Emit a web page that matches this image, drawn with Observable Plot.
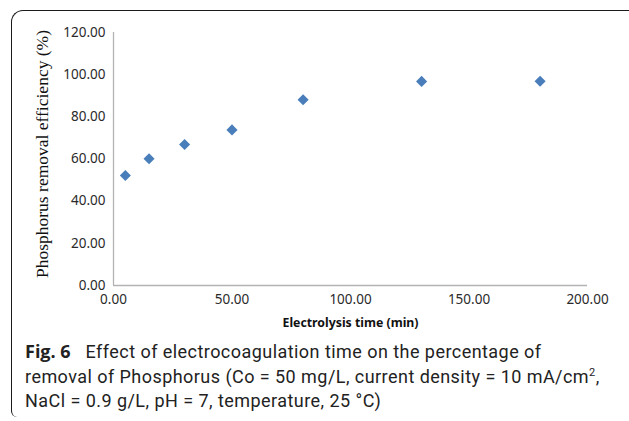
<!DOCTYPE html>
<html>
<head>
<meta charset="utf-8">
<script src="https://cdn.jsdelivr.net/npm/d3@7"></script>
<script src="https://cdn.jsdelivr.net/npm/@observablehq/plot@0.6"></script>
<style>
  html, body { margin: 0; padding: 0; background: #fff; }
  #wrap { position: relative; width: 629px; height: 421px; overflow: hidden; }
  #box { position: absolute; left: 11px; top: 10px; width: 640px; height: 407px;
         border-left: 1.5px solid #1a1a1a; border-top: 1.5px solid #1a1a1a;
         border-top-left-radius: 12px; border-bottom-left-radius: 6px; box-sizing: border-box; }
  #chart { position: absolute; left: 0; top: 0; }
  #caption { position: absolute; left: 25px; top: 339px; width: 600px; white-space: nowrap;
             font-family: "Roboto", sans-serif; font-size: 18px; letter-spacing: 0.45px;
             line-height: 24.5px; color: #222; }
  #caption b { font-family: "Open Sans", sans-serif; font-weight: bold; font-size: 18px; letter-spacing: 0; margin-right: 10px; }
  #caption sup { font-size: 11px; line-height: 0; vertical-align: 7px; }
</style>
</head>
<body>
<div id="wrap">
  <div id="box"></div>
  <div id="chart"></div>
  <div id="caption"><b>Fig. 6</b> Effect of electrocoagulation time on the percentage of<br>removal of Phosphorus (Co = 50 mg/L, current density = 10 mA/cm<sup>2</sup>,<br>NaCl = 0.9 g/L, pH = 7, temperature, 25 °C)</div>
</div>
<script>
const time = [5, 15, 30, 50, 80, 130, 180];
const efficiency = [52.2, 60.1, 66.9, 73.8, 88.1, 96.8, 96.9];
const xTicks = [0, 50, 100, 150, 200];
const yTicks = [0, 20, 40, 60, 80, 100, 120];
const xLabel = "Electrolysis time (min)";
const yLabel = "Phosphorus removal efficiency (%)";

const data = time.map((t, i) => ({time: t, eff: efficiency[i]}));
const fmt = d3.format(".2f");

const chart = Plot.plot({
  width: 629,
  height: 335,
  marginLeft: 113,
  marginRight: 42,
  marginTop: 32,
  marginBottom: 50,
  style: {fontFamily: "'Noto Sans', sans-serif", fontSize: "13.5px", color: "#2a2a2a", background: "transparent"},
  x: {domain: [0, 200], ticks: xTicks, tickFormat: fmt, tickSize: 0, tickPadding: 9, label: null},
  y: {domain: [0, 120], ticks: yTicks, tickFormat: fmt, tickSize: 0, tickPadding: 8, label: null},
  marks: [
    Plot.ruleX([0], {stroke: "#b3b3b3", strokeWidth: 1.3}),
    Plot.ruleY([0], {stroke: "#b3b3b3", strokeWidth: 1.3}),
    Plot.dot(data, {x: "time", y: "eff", symbol: "diamond2", r: 5, fill: "#4a7ebb", stroke: "none"}),
    Plot.text([xLabel], {frameAnchor: "bottom", lineAnchor: "middle", dy: 38, fontWeight: "bold", fontSize: 12.3, fill: "#111",
      fontFamily: "'Noto Sans', sans-serif"}),
    Plot.text([yLabel], {frameAnchor: "left", textAnchor: "middle", lineAnchor: "middle", dx: -71, dy: -5, rotate: -90,
      fontSize: 17.5, fill: "#111", fontFamily: "'Liberation Serif', serif"})
  ]
});
document.getElementById("chart").appendChild(chart);
</script>
</body>
</html>
